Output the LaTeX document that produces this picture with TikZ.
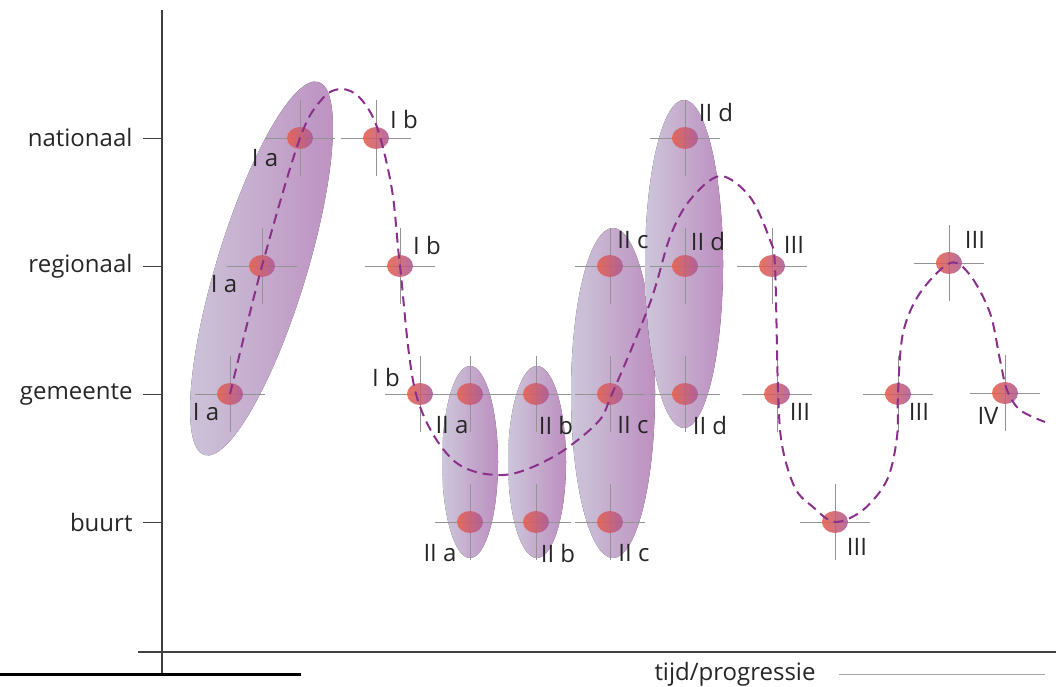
\documentclass[tikz,border=0pt]{standalone}
\usepackage{fontspec}
\setmainfont{Open Sans}
\usetikzlibrary{shapes.geometric}
\definecolor{lavlight}{RGB}{226,218,240}
\definecolor{lavdark}{RGB}{208,156,212}
\definecolor{dotred}{RGB}{232,96,76}
\definecolor{dotpurple}{RGB}{172,90,150}
\definecolor{curvepurple}{RGB}{138,48,138}
\definecolor{axisgray}{RGB}{64,64,64}

\begin{document}
\begin{tikzpicture}[x=1pt,y=1pt,
  every node/.style={font=\fontsize{24}{28}\selectfont,text=black!85},
  blob/.style={left color=lavlight,right color=lavdark,fill opacity=0.9},
  crossline/.style={gray!85,line width=0.8pt},
  dot/.style={ellipse,minimum width=26pt,minimum height=22pt,inner sep=0pt,
    left color=dotred,right color=dotpurple,fill opacity=0.88},
  lbl/.style={inner sep=0pt}]
  \useasboundingbox (0,0) rectangle (1056,686);
  % axes
  \draw[axisgray,line width=1.5pt] (162,676) -- (162,13);
  \draw[axisgray,line width=1.5pt] (138,34) -- (1056,34);
  \foreach \lev/\yy in {nationaal/548,regionaal/420,gemeente/292,buurt/164}{
    \draw[axisgray,line width=0.8pt] (143,\yy) -- (162,\yy);
    \node[anchor=east] (\lev) at (136,\yy) {\lev};
  }
  % groups
  \fill[blob,rotate around={73:(261.5,417.5)}] (261.5,417.5) ellipse[x radius=195,y radius=45];
  \fill[blob] (470,224) ellipse[x radius=28,y radius=96];
  \fill[blob] (537,224) ellipse[x radius=29,y radius=96];
  \fill[blob] (613,293) ellipse[x radius=42,y radius=165];
  \fill[blob] (684,422) ellipse[x radius=39,y radius=164];
  % phases
  \foreach \n/\px/\py/\lx/\ly/\t in {
    Ia1/230/292/-24/-18/I a, Ia2/262/420/-38/-18/I a, Ia3/300/548/-35/-20/I a,
    Ib1/376/548/28/18/I b, Ib2/400/420/27/20/I b, Ib3/420/292/-34/17/I b,
    IIa1/470/292/-18/-31/II a, IIa2/470/164/-30/-31/II a,
    IIb1/536/292/20/-31/II b, IIb2/536/164/22/-31/II b,
    IIc1/610/420/23/26/II c, IIc2/610/292/23/-31/II c, IIc3/610/164/24/-31/II c,
    IId1/685/548/31/25/II d, IId2/685/420/23/24/II d, IId3/685/292/25/-31/II d,
    IIIa/772/420/22/21/III, IIIb/777/292/23/-18/III, IIIc/835/164/22/-25/III,
    IIId/898/292/21/-18/III, IIIe/949/423/26/23/III, IV/1005/293/-17/-23/IV}{
    \coordinate (\n) at (\px,\py);
    \draw[crossline] (\px-35,\py) -- (\px+35,\py) (\px,\py-38) -- (\px,\py+38);
    \node[lbl] (l\n) at (\px+\lx,\py+\ly) {\t};
  }
  \foreach \n in {Ia1,Ia2,Ia3,Ib1,Ib2,Ib3,IIa1,IIa2,IIb1,IIb2,IIc1,IIc2,IIc3,
    IId1,IId2,IId3,IIIa,IIIb,IIIc,IIId,IIIe,IV}
    \node[dot] (d\n) at (\n) {};
  % progression
  \draw[curvepurple,line width=2pt,dash pattern=on 10pt off 6pt] plot[smooth,tension=0.55] coordinates {
    (230,292) (262,420) (300,548) (323,588) (342,597) (360,588) (377,559)
    (392,496) (400,420) (416,292) (453,226) (503,211) (553,229) (597,263)
    (612,292) (650,383) (670,449) (690,486) (720,510) (750,489) (770,446)
    (775,419) (778,296) (782,241) (795,198) (813,179) (835,164) (863,176)
    (887,206) (897,249) (898,293) (903,353) (920,393) (950,423) (970,411)
    (990,373) (1000,326) (1007,296) (1020,276) (1045,264)};
  % time axis caption
  \draw[black,line width=3pt] (0,12) -- (301,12);
  \node (tijd) at (735,12) {tijd/progressie};
  \draw[gray!70,line width=0.8pt] (tijd.east) ++(20pt,0) -- (1045,12);
\end{tikzpicture}
\end{document}
